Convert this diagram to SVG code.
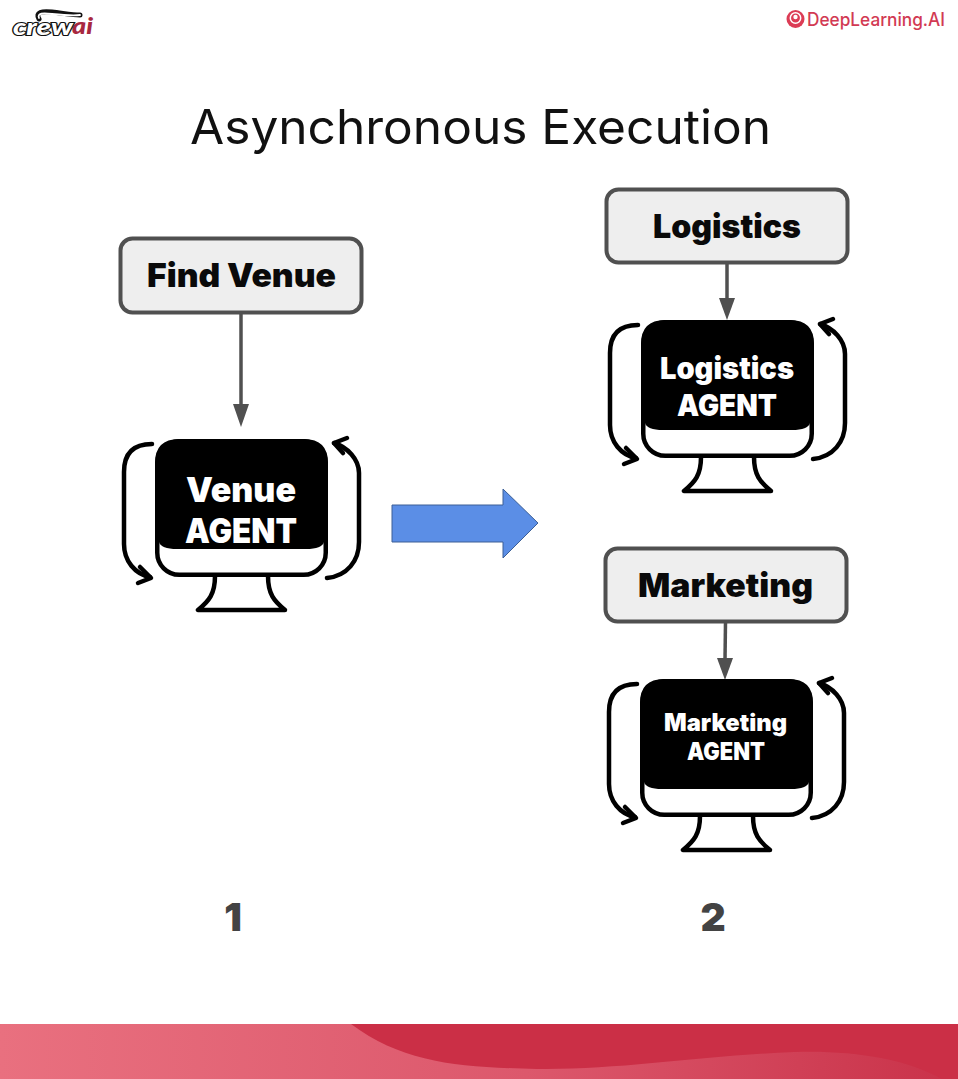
<svg xmlns="http://www.w3.org/2000/svg" width="958" height="1079" viewBox="0 0 958 1079">
<style>
text{font-family:"Inter","Open Sans","Liberation Sans",sans-serif}
.task rect{fill:#eeeeee;stroke:#505050;stroke-width:4}
.task text{font-size:33px;font-weight:900;fill:#0a0a0a}
.agent text{font-weight:900;fill:#fff}
.num{font-size:39px;font-weight:900;fill:#434343}
.conn line{stroke:#505050;stroke-width:3.500}
.head{fill:#505050}
.ln{fill:none;stroke:#000;stroke-width:4.500;stroke-linecap:round;stroke-linejoin:round}
.logo{font-family:"Lato","Liberation Sans",sans-serif;font-weight:900;font-style:italic}
</style>
<defs>
<linearGradient id="fg" x1="0" x2="1" y1="0" y2="0"><stop offset="0" stop-color="#e9707f"/><stop offset="0.55" stop-color="#dc586c"/><stop offset="1" stop-color="#c93249"/></linearGradient>
<g id="monitor">
<rect x="2.250" y="2.250" width="168.500" height="133.500" rx="22" fill="#fff" stroke="#000" stroke-width="4.500"/>
<path d="M24 0H149Q173 0 173 24V103H169Q167 110 151 110H22Q6 110 4 103H0V24Q0 0 24 0Z" fill="#000"/>
<path class="ln" d="M60 137C60 155 54 162 43 171H130C119 162 113 155 113 137"/>
<path class="ln" d="M-3 5C-22 5 -31 15 -31 33V105C-31 122 -20 135 -5 138"/>
<path class="ln" d="M-15 128L-4 139L-17 144"/>
<path class="ln" d="M172 139C192 137 204 122 204 103V34C204 20 192 8 179 4"/>
<path class="ln" d="M192 -1L179 4L188 14"/>
</g>
</defs>
<rect width="958" height="1079" fill="#fff"/>
<g id="footer">
<rect x="0" y="1024" width="958" height="55" fill="url(#fg)"/>
<path d="M351 1024H958V1079H942C905 1058 850 1050 794 1052C700 1056 620 1070 537 1069C460 1067 405 1064 351 1024Z" fill="#cb2f46"/>
</g>
<g id="logo-crewai">
<path d="M39 19C35 12 42 11 52 12C62 13 72 15 80 15" fill="none" stroke="#111" stroke-width="5" stroke-linecap="round"/>
<path d="M39 18C37 13 43 13 52 14C62 15 72 16 80 15" fill="none" stroke="#fff" stroke-width="1.800" stroke-linecap="round"/>
<text class="logo" x="72" y="34" font-size="23" textLength="21" lengthAdjust="spacingAndGlyphs" fill="#a8283f">ai</text>
<text class="logo" x="13" y="35" font-size="22" textLength="60" lengthAdjust="spacingAndGlyphs" fill="#fff" stroke="#111" stroke-width="2.200" paint-order="stroke">crew</text>
</g>
<g id="logo-deeplearning">
<circle cx="795.500" cy="19" r="9" fill="#dc3c55"/>
<circle cx="795.500" cy="18" r="5.200" fill="none" stroke="#fff" stroke-width="1.500"/>
<circle cx="795.500" cy="17" r="2.200" fill="#fff"/>
<text x="807" y="26" font-size="18" font-weight="500" fill="#d23a53" textLength="138" lengthAdjust="spacingAndGlyphs">DeepLearning.AI</text>
</g>
<text id="title" x="190" y="144" font-size="48" fill="#111" textLength="581" lengthAdjust="spacingAndGlyphs">Asynchronous Execution</text>
<g id="connectors" class="conn">
<line x1="241" y1="313" x2="241" y2="406"/><polygon class="head" points="233,404 249,404 241,427"/>
<line x1="727" y1="263" x2="727" y2="302"/><polygon class="head" points="719,298 735,298 727,320"/>
<line x1="725.500" y1="622" x2="725" y2="660"/><polygon class="head" points="717,658 733,658 725,680"/>
<polygon points="392,505 503,505 503,489 538,523 503,558 503,542 392,542" fill="#5b8ee6" stroke="#3c5f96" stroke-width="1"/>
</g>
<g id="task-find-venue" class="task"><rect x="120.500" y="238.500" width="241" height="74" rx="12"/><text x="147" y="287" textLength="189" lengthAdjust="spacingAndGlyphs">Find Venue</text></g>
<g id="task-logistics" class="task"><rect x="606.500" y="189.500" width="241" height="73" rx="12"/><text x="653" y="238" textLength="148" lengthAdjust="spacingAndGlyphs">Logistics</text></g>
<g id="task-marketing" class="task"><rect x="605.500" y="548.500" width="241" height="73" rx="12"/><text x="638" y="597" textLength="175" lengthAdjust="spacingAndGlyphs">Marketing</text></g>
<g id="agent-venue" class="agent"><use href="#monitor" x="155" y="439"/><text x="186" y="502" font-size="34" textLength="110" lengthAdjust="spacingAndGlyphs">Venue</text><text x="185" y="543" font-size="34" textLength="112" lengthAdjust="spacingAndGlyphs">AGENT</text></g>
<g id="agent-logistics" class="agent"><use href="#monitor" x="641" y="320"/><text x="660" y="379" font-size="30" textLength="134" lengthAdjust="spacingAndGlyphs">Logistics</text><text x="677" y="416" font-size="30" textLength="100" lengthAdjust="spacingAndGlyphs">AGENT</text></g>
<g id="agent-marketing" class="agent"><use href="#monitor" x="640" y="679"/><text x="664" y="731" font-size="24" textLength="123" lengthAdjust="spacingAndGlyphs">Marketing</text><text x="687" y="760" font-size="24" textLength="78" lengthAdjust="spacingAndGlyphs">AGENT</text></g>
<text id="step-1" class="num" x="233" y="931" text-anchor="middle">1</text>
<text id="step-2" class="num" x="713" y="931" text-anchor="middle">2</text>
</svg>
